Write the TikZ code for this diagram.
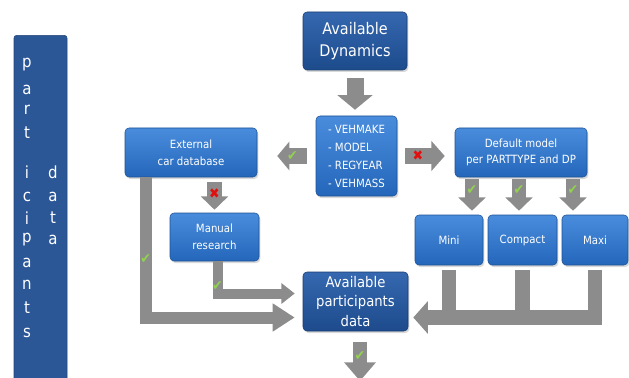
\documentclass[tikz,border=0pt]{standalone}
\usepackage{fontspec}
\setmainfont{DejaVu Sans}[FakeStretch=0.9]
\usetikzlibrary{arrows.meta,calc,shadows}
\definecolor{dark-blue}{HTML}{1D4B8C}
\definecolor{dark-top}{HTML}{3568B0}
\definecolor{mid-blue}{HTML}{2466BA}
\definecolor{mid-top}{HTML}{4A8CDC}
\definecolor{side-blue}{HTML}{2B5797}
\definecolor{arrow-gray}{HTML}{8C8C8C}
\definecolor{ok-green}{HTML}{92D050}
\definecolor{no-red}{HTML}{E01010}
\newcommand{\okmark}{\textcolor{ok-green}{✔}}
\newcommand{\nomark}{\textcolor{no-red}{✖}}

\begin{document}
\begin{tikzpicture}[x=0.75pt, y=-0.75pt,
    every node/.style={font=\fontsize{8.5}{12.5}\selectfont},
    darkbox/.style={draw=dark-blue!80!black, top color=dark-top, bottom color=dark-blue,
      rounded corners=3pt, text=white, align=center,
      drop shadow={opacity=0.3, shadow xshift=1pt, shadow yshift=-1.5pt}},
    bluebox/.style={draw=mid-blue!80!black, top color=mid-top, bottom color=mid-blue,
      rounded corners=3pt, text=white, align=center,
      drop shadow={opacity=0.3, shadow xshift=1pt, shadow yshift=-1.5pt}},
    sidetxt/.style={text=white, font=\fontsize{12.5}{14}\selectfont, inner sep=0pt},
    blk/.style={draw=arrow-gray, line join=miter},
    mk/.style={font=\fontsize{10.5}{10.5}\selectfont, inner sep=0pt}]
  \useasboundingbox (0,0) rectangle (629,378);

  % left bar
  \node[fill=side-blue, draw=side-blue!80!black, rounded corners=2pt,
    minimum width=39.75pt, minimum height=262pt, inner sep=0pt]
    (side) at (40.5,210) {};
  \foreach \ch/\yy [count=\i] in {p/65, a/90, r/110, t/133, i/172, c/197,
      i/218, p/240, a/263, n/285, t/308, s/333}
    \node[sidetxt] (pl\i) at (27,\yy) {\ch};
  \foreach \ch/\yy [count=\i] in {d/172, a/197, t/218, a/240}
    \node[sidetxt] (dl\i) at (53,\yy) {\ch};

  % boxes
  \node[darkbox, minimum width=78pt, minimum height=43.5pt,
    font=\fontsize{12}{16.5}\selectfont] (dyn) at (355,41) {Available\\Dynamics};
  \node[bluebox, minimum width=60.75pt, minimum height=60pt, align=left,
    font=\fontsize{8.5}{13.5}\selectfont]
    (list) at (356.5,156) {- VEHMAKE\\- MODEL\\- REGYEAR\\- VEHMASS};
  \node[bluebox, minimum width=99pt, minimum height=36.75pt]
    (ext) at (191,152.5) {External\\car database};
  \node[bluebox, minimum width=66.75pt, minimum height=36pt]
    (man) at (214.5,237) {Manual\\research};
  \node[darkbox, minimum width=78.75pt, minimum height=44.25pt,
    font=\fontsize{11}{14.5}\selectfont]
    (apd) at (355.5,301.5) {Available\\participants\\data};
  \node[bluebox, minimum width=99pt, minimum height=36.75pt]
    (def) at (521,152.5) {Default model\\per PARTTYPE and DP};
  \node[bluebox, minimum width=51pt, minimum height=37.5pt] (mini) at (449,240) {Mini};
  \node[bluebox, minimum width=51.75pt, minimum height=37.5pt] (compact) at (522.5,240) {Compact};
  \node[bluebox, minimum width=49.5pt, minimum height=37.5pt] (maxi) at (595,240) {Maxi};

  % block arrows
  \draw[blk, line width=12.75pt, -{Triangle[length=11pt,width=26pt]},
    shorten <=6pt, shorten >=4.5pt] (dyn.south) -- (dyn.south |- list.north);
  \draw[blk, line width=12pt, -{Triangle[length=9pt,width=21pt]},
    shorten <=6.75pt, shorten >=15pt] (list.west) -- (list.west -| ext.east)
    node[mk, pos=0.4] (ok1) {\okmark};
  \draw[blk, line width=12pt, -{Triangle[length=10pt,width=22pt]},
    shorten <=6pt, shorten >=7.5pt] (list.east) -- (list.east -| def.west)
    node[mk, pos=0.36] (no1) {\nomark};
  \draw[blk, line width=11pt, -{Triangle[length=10pt,width=20pt]},
    shorten <=3.75pt, shorten >=2.25pt] (man.north |- ext.south) -- (man.north)
    node[mk, pos=0.45] (no2) {\nomark};
  \foreach \dx/\nm in {-49/mini, -2/compact, 52/maxi} {
    \coordinate (d-\nm) at ($(def.south)+(\dx,0)$);
    \draw[blk, line width=11pt, -{Triangle[length=10pt,width=20pt]},
      shorten <=1.5pt, shorten >=3pt] (d-\nm) -- (d-\nm |- \nm.north)
      node[mk, pos=0.35] {\okmark};
  }

  % L-shaped arrows into the participants box
  \coordinate (bend) at ($(apd.east)+(0,16)$);
  \draw[blk, line width=9pt, -{Triangle[length=16.5pt,width=20pt]},
    shorten >=6pt] ($(ext.south west)+(21,0)$) |- ($(apd.west)+(0,16)$)
    node[mk, pos=0.29] (ok2) {\okmark};
  \draw[blk, line width=7.5pt, -{Triangle[length=10pt,width=15pt]},
    shorten >=6pt] ($(man.south)+(3,0)$) |- ($(apd.west)+(0,-8)$)
    node[mk, pos=0.38] (ok3) {\okmark};
  \foreach \nm in {mini, compact}
    \draw[blk, line width=11pt, shorten <=3.75pt] (\nm.south) -- (\nm.south |- bend);
  \draw[blk, line width=11pt, -{Triangle[length=11pt,width=24pt]},
    shorten <=3.75pt, shorten >=3.75pt] (maxi.south) |- (bend);

  % way out
  \coordinate (out) at (360,381);
  \draw[blk, line width=11pt, -{Triangle[length=14pt,width=23pt]},
    shorten <=8pt] ($(apd.south)+(4.5,0)$) -- (out)
    node[mk, pos=0.5] (ok4) {\okmark};
\end{tikzpicture}
\end{document}
